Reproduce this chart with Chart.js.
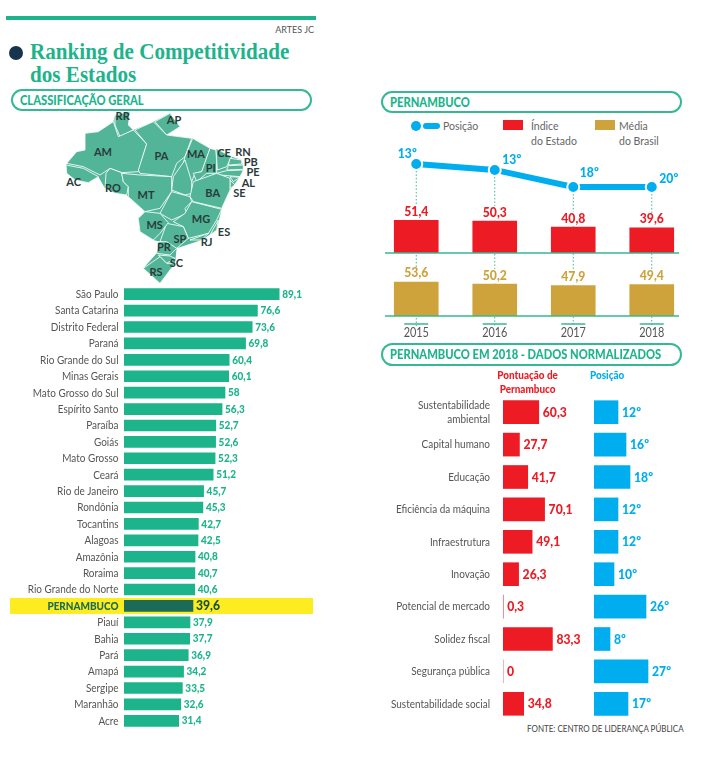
<!DOCTYPE html>
<html lang="pt-BR">
<head>
<meta charset="utf-8">
<title>Ranking de Competitividade dos Estados</title>
<script src="https://cdn.jsdelivr.net/npm/chart.js@4/dist/chart.umd.min.js"></script>
<style>
  html, body { margin: 0; padding: 0; background: #fff; }
  body { width: 722px; height: 768px; position: relative; overflow: hidden; font-family: Lato, sans-serif; }
  canvas, svg, .abs { position: absolute; }
  .barra-topo { left: 6px; top: 16px; width: 310px; height: 4px; background: #1db48c; }
  .artes { right: 408px; top: 24px; font-size: 9px; color: #555; }
  .bola { left: 9px; top: 46px; width: 14px; height: 14px; border-radius: 50%; background: #17344f; }
  .titulo { left: 30px; top: 40px; font: bold 24px/23px "Liberation Serif", serif; color: #1db48c; white-space: nowrap;
    transform: scaleX(.88); transform-origin: left; }
  .pill { box-sizing: border-box; border: 2px solid #35b995; border-radius: 12px; color: #1db48c;
    font-weight: 900; font-size: 13px; line-height: 18px; padding-left: 7px; white-space: nowrap; }
  .pill span { display: inline-block; transform: scaleX(.86); transform-origin: left; }
  .leg { font-size: 10.5px; line-height: 15px; color: #666; white-space: nowrap; }
  .cab { font-weight: 900; font-size: 11px; line-height: 14px; white-space: nowrap; transform: scaleX(.9); transform-origin: left; }
  .fonte { left: 527px; top: 723px; font-size: 9px; color: #444; white-space: nowrap; transform: scaleX(.89); transform-origin: left; }
</style>
</head>
<body>
<div class="abs barra-topo"></div>
<div class="abs artes">ARTES JC</div>
<div class="abs bola"></div>
<div class="abs titulo">Ranking de Competitividade<br>dos Estados</div>
<div class="abs pill" style="left:11px;top:89px;width:301px;height:22px"><span>CLASSIFICAÇÃO GERAL</span></div>
<svg id="mapa" style="left:0;top:0" width="330" height="290" viewBox="0 0 990 870"></svg>
<canvas id="chartRanking" width="333" height="443" style="left:0;top:286px"></canvas>

<div class="abs pill" style="left:381px;top:91px;width:301px;height:22px"><span>PERNAMBUCO</span></div>
<div class="abs" style="left:411px;top:121px;width:10px;height:10px;border-radius:50%;background:#00aeef"></div>
<div class="abs" style="left:423px;top:123px;width:17px;height:6px;border-radius:3px;background:#00aeef"></div>
<div class="abs leg" style="left:443px;top:119px">Posição</div>
<div class="abs" style="left:503px;top:120px;width:20px;height:10px;background:#ed1c24"></div>
<div class="abs leg" style="left:531px;top:119px">Índice<br>do Estado</div>
<div class="abs" style="left:595px;top:120px;width:20px;height:10px;background:#cfa33c"></div>
<div class="abs leg" style="left:619px;top:119px">Média<br>do Brasil</div>
<canvas id="chartEvolucao" width="314" height="204" style="left:377px;top:140px"></canvas>

<div class="abs pill" style="left:381px;top:343px;width:301px;height:23px"><span>PERNAMBUCO EM 2018 - DADOS NORMALIZADOS</span></div>
<div class="abs cab" style="left:497px;top:368px;width:68px;text-align:center;color:#ed1c24">Pontuação de<br>Pernambuco</div>
<div class="abs cab" style="left:590px;top:368px;color:#00aeef">Posição</div>
<canvas id="chartPontuacao" width="212" height="324" style="left:380px;top:396px"></canvas>
<canvas id="chartPosicao" width="80" height="324" style="left:594px;top:396px"></canvas>
<div class="abs fonte">FONTE: CENTRO DE LIDERANÇA PÚBLICA</div>

<script>
const estados = ["São Paulo", "Santa Catarina", "Distrito Federal", "Paraná", "Rio Grande do Sul", "Minas Gerais",
  "Mato Grosso do Sul", "Espírito Santo", "Paraíba", "Goiás", "Mato Grosso", "Ceará", "Rio de Janeiro", "Rondônia",
  "Tocantins", "Alagoas", "Amazônia", "Roraima", "Rio Grande do Norte", "PERNAMBUCO", "Piauí", "Bahia", "Pará",
  "Amapá", "Sergipe", "Maranhão", "Acre"];
const notasEstados = [89.1, 76.6, 73.6, 69.8, 60.4, 60.1, 58, 56.3, 52.7, 52.6, 52.3, 51.2, 45.7, 45.3, 42.7, 42.5,
  40.8, 40.7, 40.6, 39.6, 37.9, 37.7, 36.9, 34.2, 33.5, 32.6, 31.4];

const anos = ["2015", "2016", "2017", "2018"];
const posicaoRotulos = [13, 13, 18, 20];
// altura do traco como aparece na arte (nao segue a escala dos rotulos)
const posicaoTracado = [13, 14.3, 18, 18];
const indiceEstado = [51.4, 50.3, 40.8, 39.6];
const mediaBrasil = [53.6, 50.2, 47.9, 49.4];

const pilares = [["Sustentabilidade", "ambiental"], "Capital humano", "Educação", "Eficiência da máquina",
  "Infraestrutura", "Inovação", "Potencial de mercado", "Solidez fiscal", "Segurança pública", "Sustentabilidade social"];
const pontuacao = [60.3, 27.7, 41.7, 70.1, 49.1, 26.3, 0.3, 83.3, 0, 34.8];
const posicaoPilar = [12, 16, 18, 12, 12, 10, 26, 8, 27, 17];

const VERDE = "#1db48c", VERDE_ESCURO = "#1a6b58", AMARELO = "#fdec1f";
const VERMELHO = "#ed1c24", AZUL = "#00aeef", OURO = "#cfa33c", CINZA = "#555";
const virgula = (v) => String(v).replace(".", ",");

// mapa ilustrativo (coordenadas do recorte 3x)
const contorno = "345,345 390,335 385,375 400,390 460,365 510,340 540,380 500,405 575,415 630,445 695,470 725,480 730,510 720,530 690,570 665,625 650,690 605,720 530,745 525,790 480,850 430,805 470,760 480,725 460,720 420,695 415,655 435,635 385,590 380,585 315,565 295,530 265,548 225,540 198,495 230,455 255,450 255,400 295,395 340,365";
const regioes = [
  "345,345 390,335 385,375 400,390 360,410 345,375",
  "200,490 230,455 255,450 255,400 295,395 340,365 355,410 400,390 440,432 415,515 365,518 330,505 300,525 250,500",
  "198,495 250,505 295,530 265,548 225,540 200,520",
  "318,520 330,505 365,518 370,545 385,560 380,585 345,580 315,565",
  "465,365 510,340 540,380 500,405",
  "405,390 460,365 500,405 575,415 555,470 530,490 515,530 420,520 415,510 440,432",
  "578,415 630,445 620,475 605,515 585,520 575,545 550,490 555,470",
  "555,480 575,545 575,580 555,585 515,570 520,530",
  "630,445 648,450 650,490 650,520 620,520 590,545 580,520 605,515",
  "648,445 695,470 680,500 652,510",
  "690,475 725,480 725,492 685,495",
  "685,497 730,495 730,508 680,510",
  "650,520 680,512 730,510 720,530 660,525",
  "690,530 720,532 700,545",
  "690,540 705,555 690,565",
  "580,545 650,520 690,535 690,570 665,625 580,605 570,590",
  "365,520 420,525 515,530 515,575 480,625 435,635 385,590 385,560 370,545",
  "515,575 570,590 575,605 555,625 560,640 515,660 480,640",
  "575,605 665,628 650,660 625,700 565,715 550,680 520,665 555,640",
  "655,660 650,690 630,705",
  "625,700 605,720 570,720",
  "500,670 550,680 565,715 530,745 500,730 480,725",
  "435,635 480,640 505,668 480,700 460,720 420,695 415,655",
  "475,725 500,725 530,745 510,765 470,760",
  "475,765 510,768 525,775 500,790",
  "430,805 480,770 500,790 525,790 480,850",
];
const siglas = [["RR", 368, 348], ["AP", 522, 360], ["AM", 309, 456], ["PA", 484, 468], ["MA", 588, 463], ["CE", 672, 458],
  ["RN", 729, 457], ["PB", 752, 487], ["PE", 759, 517], ["PI", 632, 505], ["AL", 745, 548], ["SE", 718, 578], ["AC", 221, 547],
  ["RO", 339, 564], ["MT", 438, 584], ["BA", 638, 578], ["MG", 603, 657], ["ES", 672, 697], ["MS", 464, 675], ["SP", 540, 716],
  ["RJ", 620, 727], ["PR", 492, 742], ["SC", 529, 790], ["RS", 468, 816]];

const svgNS = "http://www.w3.org/2000/svg";
const mapa = document.getElementById("mapa");
const poligono = (pontos, traco) => {
  const p = document.createElementNS(svgNS, "polygon");
  p.setAttribute("points", pontos);
  p.setAttribute("fill", "#52b597");
  if (traco) {
    p.setAttribute("stroke", "#fff");
    p.setAttribute("stroke-width", traco);
  }
  mapa.appendChild(p);
};
poligono(contorno, 0);
regioes.forEach((pontos) => poligono(pontos, 2.5));
siglas.forEach(([sigla, x, y]) => {
  const t = document.createElementNS(svgNS, "text");
  t.textContent = sigla;
  t.setAttribute("x", x);
  t.setAttribute("y", y + 12);
  t.setAttribute("text-anchor", "middle");
  t.setAttribute("font-family", "Lato, sans-serif");
  t.setAttribute("font-weight", "700");
  t.setAttribute("font-size", "33");
  t.setAttribute("fill", "#2b3a3a");
  mapa.appendChild(t);
});

// texto comprimido na horizontal, a fonte da arte e mais estreita
const textoEstreito = (ctx, texto, x, y, escala) => {
  ctx.save();
  ctx.translate(x, y);
  ctx.scale(escala, 1);
  ctx.fillText(texto, 0, 0);
  ctx.restore();
};

// rotulos no fim de cada barra horizontal
const rotulosBarra = (formato, estilo, gap) => ({
  id: "rotulosBarra",
  afterDatasetsDraw(chart) {
    const ctx = chart.ctx;
    const meta = chart.getDatasetMeta(0);
    ctx.save();
    ctx.textBaseline = "middle";
    ctx.textAlign = "left";
    meta.data.forEach((bar, i) => {
      const v = chart.data.datasets[0].data[i];
      const s = estilo(i);
      ctx.font = s.font;
      ctx.fillStyle = s.color;
      textoEstreito(ctx, formato(v), bar.x + gap, bar.y, 0.87);
    });
    ctx.restore();
  },
});

// rotulos do eixo de categorias, na mesma fonte comprimida
const rotulosEixoY = (gap, estilo) => ({
  id: "rotulosEixoY",
  afterDraw(chart) {
    const ctx = chart.ctx;
    const y = chart.scales.y;
    ctx.save();
    ctx.textAlign = "right";
    ctx.textBaseline = "middle";
    chart.data.labels.forEach((rotulo, i) => {
      const s = estilo(i);
      const linhas = [].concat(rotulo);
      ctx.font = s.font;
      ctx.fillStyle = s.color;
      linhas.forEach((linha, n) => {
        const py = y.getPixelForValue(i) + (n - (linhas.length - 1) / 2) * 14.5;
        textoEstreito(ctx, linha, y.right - gap, py, 0.83);
      });
    });
    ctx.restore();
  },
});

const faixaAmarela = {
  id: "faixaAmarela",
  beforeDraw(chart) {
    const y = chart.scales.y.getPixelForValue(estados.indexOf("PERNAMBUCO"));
    chart.ctx.save();
    chart.ctx.fillStyle = AMARELO;
    chart.ctx.fillRect(10, y - 8, 303, 16);
    chart.ctx.restore();
  },
};

const eixoFixo = (largura) => (scale) => { scale.width = largura; };

const eixoCategorias = (largura) => ({
  afterFit: eixoFixo(largura),
  grid: { display: false },
  border: { display: false },
  ticks: { display: false },
});

new Chart(document.getElementById("chartRanking"), {
  type: "bar",
  data: {
    labels: estados,
    datasets: [{
      data: notasEstados,
      barThickness: 11,
      backgroundColor: estados.map((e) => (e === "PERNAMBUCO" ? VERDE_ESCURO : VERDE)),
    }],
  },
  options: {
    indexAxis: "y",
    responsive: false,
    animation: false,
    layout: { padding: 0, autoPadding: false },
    plugins: { legend: { display: false }, tooltip: { enabled: false } },
    scales: {
      x: { display: false, min: 0, max: 120 },
      y: eixoCategorias(124),
    },
  },
  plugins: [
    faixaAmarela,
    rotulosEixoY(5.5, (i) => (estados[i] === "PERNAMBUCO"
      ? { font: "900 12px Lato", color: VERDE_ESCURO }
      : { font: "12px Lato", color: CINZA })),
    rotulosBarra(virgula, (i) => (estados[i] === "PERNAMBUCO"
      ? { font: "900 14px Lato", color: "#14513f" }
      : { font: "900 11.5px Lato", color: VERDE }), 3),
  ],
});

const desvioPosicao = [[-9, -10], [17, -10], [16, -14], [17, -8]];

const anotacoesEvolucao = {
  id: "anotacoesEvolucao",
  beforeDatasetsDraw(chart) {
    const ctx = chart.ctx;
    const { x, yPos, yMedia } = chart.scales;
    const base2 = yMedia.getPixelForValue(0);
    ctx.save();
    ctx.strokeStyle = "#35b995";
    ctx.lineWidth = 1;
    ctx.setLineDash([1.5, 2]);
    anos.forEach((_, i) => {
      const px = x.getPixelForValue(i);
      ctx.beginPath();
      ctx.moveTo(px, yPos.getPixelForValue(posicaoTracado[i]));
      ctx.lineTo(px, base2 + 10);
      ctx.stroke();
    });
    ctx.setLineDash([]);
    ctx.lineWidth = 1.5;
    anos.forEach((_, i) => {
      const px = x.getPixelForValue(i);
      ctx.beginPath();
      ctx.moveTo(px - 12, base2 + 8);
      ctx.lineTo(px + 12, base2 + 8);
      ctx.stroke();
    });
    ctx.restore();
  },
  afterDatasetsDraw(chart) {
    const ctx = chart.ctx;
    const { x, yPos, yIndice, yMedia } = chart.scales;
    const base2 = yMedia.getPixelForValue(0);
    ctx.save();
    ctx.strokeStyle = "#35b995";
    ctx.lineWidth = 1.5;
    [yIndice.getPixelForValue(0), base2].forEach((b) => {
      ctx.beginPath();
      ctx.moveTo(8, b);
      ctx.lineTo(302, b);
      ctx.stroke();
    });
    ctx.textAlign = "left";
    ctx.textBaseline = "bottom";
    ctx.font = "900 14px Lato";
    anos.forEach((ano, i) => {
      const px = x.getPixelForValue(i);
      ctx.fillStyle = "#fff";
      ctx.fillRect(px - 14, yIndice.getPixelForValue(indiceEstado[i]) - 15, 28, 14);
      ctx.fillRect(px - 14, yMedia.getPixelForValue(mediaBrasil[i]) - 15, 28, 14);
      ctx.fillStyle = VERMELHO;
      textoEstreito(ctx, virgula(indiceEstado[i]), px - 12, yIndice.getPixelForValue(indiceEstado[i]) - 2, 0.87);
      ctx.fillStyle = OURO;
      textoEstreito(ctx, virgula(mediaBrasil[i]), px - 12, yMedia.getPixelForValue(mediaBrasil[i]) - 2, 0.87);
    });
    ctx.textAlign = "center";
    ctx.textBaseline = "middle";
    ctx.fillStyle = AZUL;
    posicaoRotulos.forEach((v, i) => {
      textoEstreito(ctx, `${v}º`, x.getPixelForValue(i) + desvioPosicao[i][0], yPos.getPixelForValue(posicaoTracado[i]) + desvioPosicao[i][1], 0.87);
    });
    ctx.font = "12.5px Lato";
    ctx.fillStyle = CINZA;
    anos.forEach((ano, i) => {
      textoEstreito(ctx, ano, x.getPixelForValue(i), base2 + 17, 0.87);
    });
    ctx.restore();
  },
};

const painel = (peso, extra) => Object.assign({
  position: "left",
  stack: "painel",
  stackWeight: peso,
  afterFit: eixoFixo(0),
  grid: { display: false },
  border: { display: false },
  ticks: { display: false },
}, extra);

new Chart(document.getElementById("chartEvolucao"), {
  data: {
    labels: anos,
    datasets: [
      {
        type: "line",
        data: posicaoTracado,
        yAxisID: "yPos",
        order: 0,
        borderColor: AZUL,
        borderWidth: 6,
        pointRadius: 6,
        pointBackgroundColor: AZUL,
        pointBorderColor: "#fff",
        pointBorderWidth: 2,
        tension: 0,
      },
      { type: "bar", data: indiceEstado, yAxisID: "yIndice", order: 1, grouped: false, barThickness: 44, backgroundColor: VERMELHO },
      { type: "bar", data: mediaBrasil, yAxisID: "yMedia", order: 1, grouped: false, barThickness: 44, backgroundColor: OURO },
    ],
  },
  options: {
    responsive: false,
    animation: false,
    layout: { padding: 0, autoPadding: false },
    plugins: { legend: { display: false }, tooltip: { enabled: false } },
    scales: {
      x: {
        afterFit: (scale) => { scale.height = 28; },
        grid: { display: false },
        border: { display: false },
        ticks: { display: false },
      },
      yMedia: painel(63, { min: 0, max: 99.2, weight: 1 }),
      yIndice: painel(58, { min: 0, max: 91.3, weight: 2 }),
      yPos: painel(55, { min: 7.8, max: 19.75, reverse: true, weight: 3 }),
    },
  },
  plugins: [anotacoesEvolucao],
});

new Chart(document.getElementById("chartPontuacao"), {
  type: "bar",
  data: { labels: pilares, datasets: [{ data: pontuacao, barThickness: 23, backgroundColor: VERMELHO }] },
  options: {
    indexAxis: "y",
    responsive: false,
    animation: false,
    layout: { padding: 0, autoPadding: false },
    plugins: { legend: { display: false }, tooltip: { enabled: false } },
    scales: {
      x: { display: false, min: 0, max: 150 },
      y: eixoCategorias(123),
    },
  },
  plugins: [
    rotulosEixoY(13, () => ({ font: "12px Lato", color: CINZA })),
    rotulosBarra(virgula, () => ({ font: "900 14px Lato", color: VERMELHO }), 4),
  ],
});

new Chart(document.getElementById("chartPosicao"), {
  type: "bar",
  data: { labels: pilares, datasets: [{ data: posicaoPilar, barThickness: 23, backgroundColor: AZUL }] },
  options: {
    indexAxis: "y",
    responsive: false,
    animation: false,
    layout: { padding: 0, autoPadding: false },
    plugins: { legend: { display: false }, tooltip: { enabled: false } },
    scales: {
      x: { display: false, min: 0, max: 40 },
      y: { display: false },
    },
  },
  plugins: [rotulosBarra((v) => `${v}º`, () => ({ font: "900 14px Lato", color: AZUL }), 4)],
});
</script>
</body>
</html>
